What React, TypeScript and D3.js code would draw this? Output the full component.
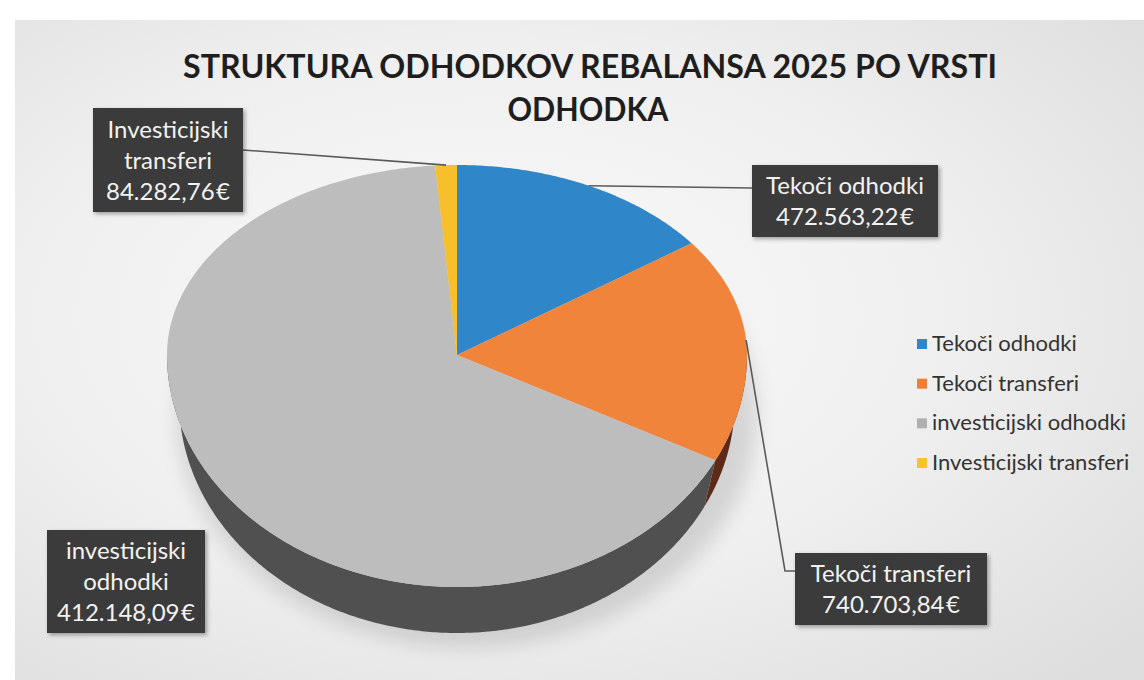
import React from 'react';
import * as d3 from 'd3';

const categories = ['Tekoči odhodki', 'Tekoči transferi', 'investicijski odhodki', 'Investicijski transferi'];
const sliceShares = [15.0, 17.5, 66.3, 1.2];
// data label texts as printed on the chart
const labelNames = [['Tekoči odhodki'], ['Tekoči transferi'], ['investicijski', 'odhodki'], ['Investicijski', 'transferi']];
const labelAmounts = ['472.563,22\u200A€', '740.703,84\u200A€', '412.148,09\u200A€', '84.282,76\u200A€'];
const titleLines = ['STRUKTURA ODHODKOV REBALANSA 2025 PO VRSTI', 'ODHODKA'];

const topColors = ['#2f87c9', '#f0843a', '#bdbdbd', '#f7bf2c'];
const sideColors = ['#1d5a88', '#5e2a18', '#505050', '#a07a10'];
const legendColors = ['#2f87c9', '#ee7f35', '#b0b0b0', '#fcc22a'];

const W = 1144;
const H = 680;
const FONT = "Lato, 'Open Sans', sans-serif";

// pie geometry (tilted, a little perspective: the base is slightly narrower)
const cx = 457;
const cy = 355;
const rx = 290;
const ryTop = 190;
const ryBot = 232;
const depth = 46;
const baseScale = 0.958;

// label boxes, one per slice
const boxes = [
  { x: 752, y: 165, w: 186, h: 72, via: [[752, 188]] },
  { x: 795, y: 553, w: 192, h: 72, via: [[785, 571], [795, 571]] },
  { x: 47, y: 530, w: 158, h: 103, via: null },
  { x: 93, y: 108, w: 150, h: 104, via: [[243, 150]] },
];

const project = (a: number, dz = 0, k = 1): [number, number] => {
  const v = -Math.cos(a);
  return [cx + rx * k * Math.sin(a), cy + v * (v < 0 ? ryTop : ryBot) + dz];
};

const sample = (a0: number, a1: number, dz = 0, k = 1): [number, number][] => {
  const n = Math.max(2, Math.ceil(Math.abs(a1 - a0) / 0.01));
  return d3.range(n + 1).map(i => project(a0 + ((a1 - a0) * i) / n, dz, k));
};

const line = d3.line<[number, number]>();

export default function App() {
  const pie = d3.pie<number>().sort(null).value(d => d);
  const arcs = pie(sliceShares);

  // outer walls facing the viewer (angles between 90° and 270°)
  const sides = arcs.map((a, i) => {
    const s = Math.max(a.startAngle, Math.PI / 2);
    const e = Math.min(a.endAngle, (3 * Math.PI) / 2);
    if (e <= s) return null;
    const pts = [...sample(s, e), ...sample(e, s, depth, baseScale)];
    return <path key={'s' + i} d={line(pts) + 'Z'} fill={sideColors[i]} />;
  });

  const tops = arcs.map((a, i) => {
    const pts: [number, number][] = [[cx, cy], ...sample(a.startAngle, a.endAngle)];
    return <path key={'t' + i} d={line(pts) + 'Z'} fill={topColors[i]} />;
  });

  const labels = arcs.map((a, i) => {
    const b = boxes[i];
    const mid = (a.startAngle + a.endAngle) / 2;
    const lines = [...labelNames[i], labelAmounts[i]];
    const lh = 31;
    const first = b.y + (b.h - lines.length * lh) / 2 + 24;
    const leader = b.via ? [project(mid), ...b.via] as [number, number][] : null;
    return (
      <g key={'l' + i}>
        {leader && <path d={line(leader) as string} fill="none" stroke="#5a5a5a" strokeWidth={1.6} />}
        <rect x={b.x} y={b.y} width={b.w} height={b.h} fill="#3a3a3a" filter="url(#shadow)" />
        {lines.map((t, j) => (
          <text key={j} x={b.x + b.w / 2} y={first + j * lh} textAnchor="middle"
            fontFamily={FONT} fontSize={24} fill="#f2f2f2">{t}</text>
        ))}
      </g>
    );
  });

  const legendY = d3.scalePoint<string>().domain(categories).range([344, 463]);

  return (
    <svg width={W} height={H} style={{ position: 'absolute', left: 0, top: 0 }}>
      <defs>
        <radialGradient id="bg" cx="0.42" cy="0.45" r="0.75">
          <stop offset="0" stopColor="#fafafa" />
          <stop offset="0.55" stopColor="#efefef" />
          <stop offset="1" stopColor="#dedede" />
        </radialGradient>
        <filter id="shadow" x="-10%" y="-10%" width="130%" height="130%">
          <feDropShadow dx="2" dy="2" stdDeviation="2" floodColor="#000" floodOpacity="0.35" />
        </filter>
        <filter id="pieShadow" x="-20%" y="-20%" width="140%" height="140%">
          <feGaussianBlur stdDeviation="10" />
        </filter>
      </defs>
      <rect width={W} height={H} fill="#ffffff" />
      <rect x={15} y={20} width={W - 15} height={H - 20} fill="url(#bg)" />

      <text x={590} y={78} textAnchor="middle" fontFamily={FONT} fontWeight="bold" fontSize={32}
        fill="#1e1e1e" textLength={814} lengthAdjust="spacingAndGlyphs">{titleLines[0]}</text>
      <text x={588} y={121} textAnchor="middle" fontFamily={FONT} fontWeight="bold" fontSize={32}
        fill="#1e1e1e" textLength={161} lengthAdjust="spacingAndGlyphs">{titleLines[1]}</text>

      <ellipse cx={cx + 10} cy={cy + 60} rx={rx} ry={ryBot} fill="#000" opacity={0.12} filter="url(#pieShadow)" />
      {sides}
      {tops}
      {labels}

      {categories.map((c, i) => (
        <g key={c} transform={`translate(917,${legendY(c)})`}>
          <rect x={0} y={-5} width={10} height={10} fill={legendColors[i]} />
          <text x={15} y={7} fontFamily={FONT} fontSize={22} fill="#333">{c}</text>
        </g>
      ))}
    </svg>
  );
}
